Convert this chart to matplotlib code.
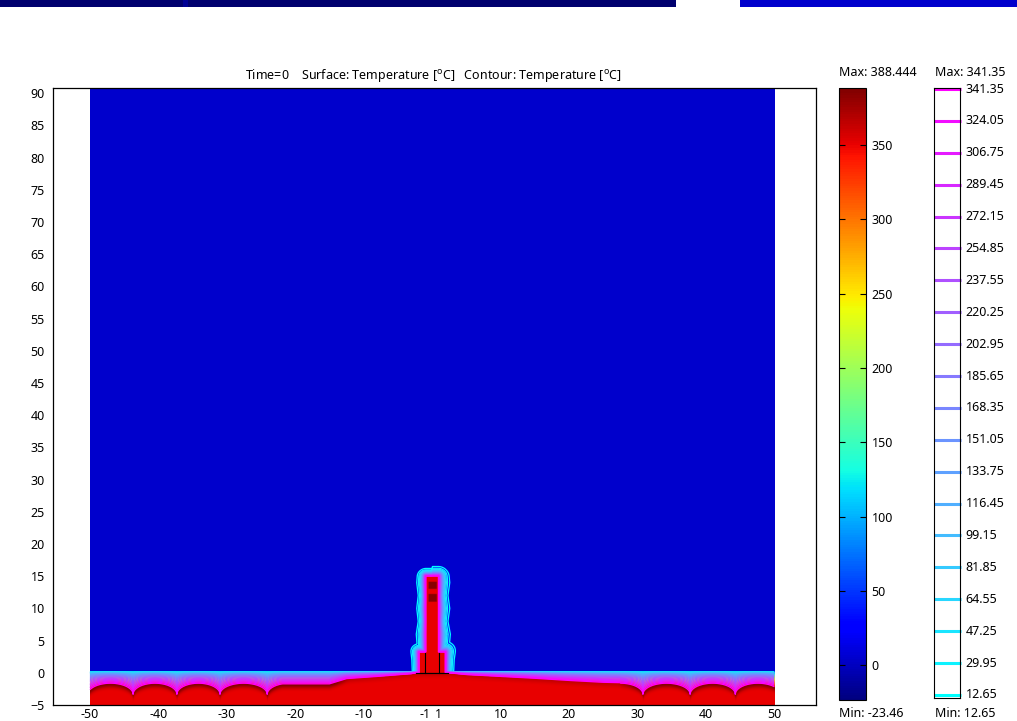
import numpy as np
import matplotlib
matplotlib.use("Agg")
import matplotlib.pyplot as plt
import matplotlib as mpl
from matplotlib.colors import Normalize
from matplotlib.patches import Rectangle

plt.rcParams["font.family"] = ["Noto Sans", "DejaVu Sans"]
plt.rcParams["mathtext.fontset"] = "custom"
plt.rcParams["mathtext.rm"] = "Noto Sans"

# ---------------- data ----------------
title_text = r"Time=0    Surface: Temperature [$^{\mathrm{o}}$C]   Contour: Temperature [$^{\mathrm{o}}$C]"
x_ticks = [-50, -40, -30, -20, -10, -1, 1, 10, 20, 30, 40, 50]
y_ticks = list(range(-5, 95, 5))

surf_min, surf_max = -23.46, 388.444
surf_ticks = [0, 50, 100, 150, 200, 250, 300, 350]

contour_levels = [12.65, 29.95, 47.25, 64.55, 81.85, 99.15, 116.45, 133.75,
                  151.05, 168.35, 185.65, 202.95, 220.25, 237.55, 254.85,
                  272.15, 289.45, 306.75, 324.05, 341.35]
contour_min, contour_max = 12.65, 341.35

T_air = 4.0        # air temperature (dark blue)
T_soil = 350.0     # heated ground / tower (red)
T_hot = 385.0      # hottest spots (dark red)

# ground surface: arches (valley positions) and central mound profile
left_valleys = [-50.3, -43.7, -37.3, -31.0, -24.1]
right_valleys = [30.8, 37.7, 44.3, 50.9]
arch_top, valley_depth = -1.7, -3.5
mound_x = [-24.1, -15.0, -12.5, -8.0, -3.0, -2.4, 2.4, 5.0, 10.0, 15.0, 20.0, 25.0, 30.8]
mound_s = [-1.8, -1.8, -0.95, -0.6, -0.15, 0.0, 0.0, -0.3, -0.6, -0.9, -1.25, -1.55, -1.7]
rim_x = [-50, -14, -12, 27, 29.5, 50]
rim_a = [38, 38, 14, 14, 38, 38]
ground_top = 0.15

# tower / plume
core_half, core_top = 0.9, 15.0
base_half, base_top = 1.9, 3.2
plume_y = [0, 2, 4, 6, 8, 10, 12, 14, 16]
plume_w = [1.4, 1.5, 1.8, 2.0, 1.6, 1.9, 1.6, 1.9, 1.7]
hot_boxes = [(-0.6, 0.6, 13.0, 14.1), (-0.6, 0.6, 11.0, 12.2)]

# ---------------- build field ----------------
xg = np.arange(-50, 50.0001, 0.05)
yg = np.arange(-5, 91.0001, 0.05)
X, Y = np.meshgrid(xg, yg)

s = np.interp(xg, mound_x, mound_s)
s[(xg < mound_x[0]) | (xg > mound_x[-1])] = 0.0

def arch_value(a, b, side=0):
    c, h = (a + b) / 2, (b - a) / 2
    u = (xg - c) / h
    v = np.full_like(xg, np.inf)
    m = np.abs(u) <= 1
    if side < 0:
        m &= u <= 0
    elif side > 0:
        m &= u >= 0
    v[m] = valley_depth + (arch_top - valley_depth) * np.sqrt(1 - u[m] ** 2)
    return v

arches = list(zip(left_valleys[:-1], left_valleys[1:])) + list(zip(right_valleys[:-1], right_valleys[1:]))
for a, b in arches:
    s = np.minimum(s, arch_value(a, b))
w_half = 3.3
s = np.minimum(s, arch_value(left_valleys[-1], left_valleys[-1] + 2 * w_half, side=-1))
s = np.minimum(s, arch_value(right_valleys[0] - 2 * w_half, right_valleys[0], side=1))

A = np.interp(xg, rim_x, rim_a)
S = s[None, :]
d = np.clip((Y - S) / (ground_top - S), 0, 1)
T_ground = T_air + (T_soil - T_air) * (1 - d) ** 0.55
below = Y < S
T_ground = np.where(below, T_soil + A[None, :] * np.exp(-((S - Y) / 0.6) ** 2), T_ground)

def rect_dist(x0, x1, y0, y1):
    dx = np.maximum(np.maximum(x0 - X, 0), X - x1)
    dy = np.maximum(np.maximum(y0 - Y, 0), Y - y1)
    return np.hypot(dx, dy)

dist = np.minimum(rect_dist(-core_half, core_half, -5, core_top),
                  rect_dist(-base_half, base_half, -5, base_top))
W = np.interp(Y, plume_y, plume_w) * np.where(X > 0, 1.25, 1.0)
T_tower = T_air + (T_soil - T_air) * np.clip(1 - dist / W, 0, 1) ** 3

T = np.maximum(T_ground, T_tower)
for x0, x1, y0, y1 in hot_boxes:
    T[(X >= x0) & (X <= x1) & (Y >= y0) & (Y <= y1)] = T_hot

# ---------------- figure ----------------
FW, FH = 1017, 721
fig = plt.figure(figsize=(FW / 100, FH / 100), dpi=100)
fig.patch.set_facecolor("white")

def px_rect(x0, y0, x1, y1):
    return [x0 / FW, 1 - y1 / FH, (x1 - x0) / FW, (y1 - y0) / FH]

# banner strip at top
for (x0, x1, col) in [(0, 676, (0, 0, 0.43)), (183, 188, (0, 0, 0.58)), (740, 1017, (0, 0, 0.80))]:
    r = px_rect(x0, 0, x1, 7)
    fig.add_artist(Rectangle((r[0], r[1]), r[2], r[3], transform=fig.transFigure,
                             facecolor=col, edgecolor="none"))

ax = fig.add_axes(px_rect(53, 88, 816, 705))
norm_s = Normalize(surf_min, surf_max)
ax.imshow(T, extent=[-50, 50, -5, 91], origin="lower", cmap="jet", norm=norm_s,
          aspect="auto", interpolation="bilinear")
mask = yg < 18
ax.contour(xg, yg[mask], T[mask], levels=contour_levels, cmap="cool",
           norm=Normalize(contour_min, contour_max), linewidths=0.9)
ax.plot([-1, -1], [0, 3], color="black", lw=0.8)
ax.plot([1, 1], [0, 3], color="black", lw=0.8)
ax.plot([-2.3, 2.3], [0, 0], color="black", lw=0.8)
ax.set_xlim(-55.4, 56.1)
ax.set_ylim(-5, 90.8)
ax.set_xticks(x_ticks)
ax.set_xticklabels([str(v) for v in x_ticks])
ax.set_yticks(y_ticks)
ax.tick_params(axis="y", length=0, labelsize=9, pad=6)
ax.tick_params(axis="x", length=0, labelsize=9, pad=2)
for sp in ax.spines.values():
    sp.set_linewidth(0.9)

fig.text(433 / FW, 1 - 75 / FH, title_text, ha="center", va="center", fontsize=9)

# surface colorbar
cax = fig.add_axes(px_rect(839, 88, 866, 700))
cb = mpl.colorbar.ColorbarBase(cax, cmap=plt.get_cmap("jet"), norm=norm_s,
                               orientation="vertical", ticks=surf_ticks)
cb.outline.set_linewidth(0.8)
cax.tick_params(direction="in", length=4, left=True, right=True, labelleft=False,
                labelright=True, labelsize=9, pad=4, width=0.8)
fig.text(839 / FW, 1 - 73 / FH, "Max: %s" % surf_max, ha="left", va="center", fontsize=9)
fig.text(839 / FW, 1 - 720 / FH, "Min: %s" % surf_min, ha="left", va="bottom", fontsize=9)

# contour legend
cax2 = fig.add_axes(px_rect(934, 88, 960, 698))
cax2.set_xlim(0, 1)
cax2.set_ylim(11.0, 341.9)
cax2.set_xticks([])
cax2.set_yticks([])
cool = plt.get_cmap("cool")
norm_c = Normalize(contour_min, contour_max)
for lev in contour_levels:
    cax2.plot([0, 1.05], [lev, lev], color=cool(norm_c(lev)), lw=2.2, clip_on=False,
              solid_capstyle="butt")
    cax2.text(1.22, lev, "%.2f" % lev, ha="left", va="center", fontsize=9,
              transform=cax2.get_yaxis_transform())
for sp in cax2.spines.values():
    sp.set_linewidth(0.8)
fig.text(935 / FW, 1 - 73 / FH, "Max: %.2f" % contour_max, ha="left", va="center", fontsize=9)
fig.text(935 / FW, 1 - 720 / FH, "Min: %.2f" % contour_min, ha="left", va="bottom", fontsize=9)

fig.savefig("out.png", dpi=100)
